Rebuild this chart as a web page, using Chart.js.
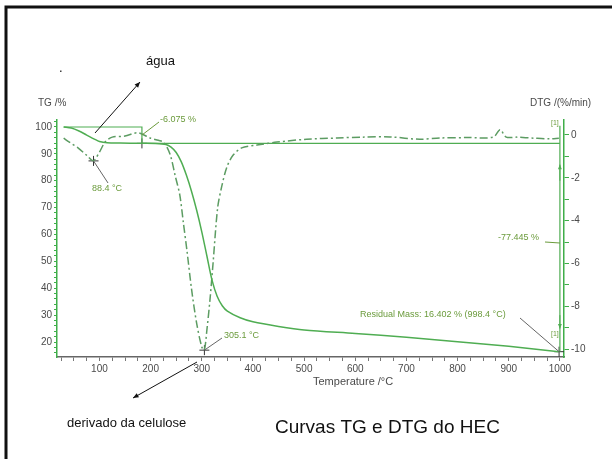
<!DOCTYPE html>
<html>
<head>
<meta charset="utf-8">
<script src="https://cdn.jsdelivr.net/npm/chart.js@4"></script>
<style>
  html, body { margin: 0; padding: 0; background: #fff; }
  #wrap { width: 612px; height: 459px; }
</style>
</head>
<body>
<div id="wrap"><canvas id="tga" width="612" height="459"></canvas></div>
<script>
// ============================================================
// DATA
// ============================================================

// TG curve: temperature (°C) -> mass (%)
const tgTemp = [30, 45, 60, 75, 90, 100, 115, 140, 180, 210, 230, 240, 250, 260, 270, 280, 290, 300, 310, 320, 330, 340, 350, 375, 400, 450, 500, 600, 700, 800, 900, 998];
const tgMass = [100, 99.6, 98.5, 97.0, 95.5, 94.6, 94.1, 94.0, 93.95, 93.9, 93.5, 92.5, 90.5, 87, 82, 76, 69, 61, 52, 43, 37, 33.5, 31.5, 29, 27.5, 25.8, 24.5, 23.2, 21.8, 20.1, 18.4, 16.4];

// DTG curve: temperature (°C) -> rate (%/min)
const dtgTemp = [30, 42, 58, 75, 88, 100, 111, 125, 150, 175, 200, 215, 226, 238, 248, 257, 264, 271, 280, 290, 300, 305, 310, 316, 322, 331, 339, 349, 361, 378, 408, 447, 505, 564, 615, 668, 726, 765, 820, 870, 883, 895, 916, 950, 980, 998];
const dtgRate = [-0.15, -0.35, -0.6, -0.95, -1.2, -0.8, -0.33, -0.1, -0.05, 0.1, -0.15, -0.25, -0.35, -0.9, -1.9, -2.8, -4.1, -5.4, -7.2, -8.8, -9.9, -10.05, -9.1, -7.7, -6.0, -3.4, -2.4, -1.5, -0.95, -0.6, -0.47, -0.33, -0.2, -0.14, -0.1, -0.09, -0.2, -0.14, -0.12, -0.1, 0.25, -0.1, -0.1, -0.15, -0.18, -0.15];

// step evaluation lines (TG axis)
const stepTemp = [30, 183, 183, 1000];
const stepMass = [100, 100, 93.9, 93.9];
const lossTemp = [1000, 1000];
const lossMass = [100.5, 16.4];

// marked points
const tgMarkTemp = [183, 998.4];
const tgMarkMass = [93.9, 16.4];
const dtgMarkTemp = [88.4, 305.1];
const dtgMarkRate = [-1.21, -10.05];

// axes
const xTickLabels = [100, 200, 300, 400, 500, 600, 700, 800, 900, 1000];
const xMinorTicks = [25, 50, 75, 100, 125, 150, 175, 200, 225, 250, 275, 300, 325, 350, 375, 400, 425, 450, 475, 500, 525, 550, 575, 600, 625, 650, 675, 700, 725, 750, 775, 800, 825, 850, 875, 900, 925, 950, 975, 1000];
const tgTickLabels = [20, 30, 40, 50, 60, 70, 80, 90, 100];
const tgMinorTicks = [16, 18, 20, 22, 24, 26, 28, 30, 32, 34, 36, 38, 40, 42, 44, 46, 48, 50, 52, 54, 56, 58, 60, 62, 64, 66, 68, 70, 72, 74, 76, 78, 80, 82, 84, 86, 88, 90, 92, 94, 96, 98, 100, 102];
const dtgTickLabels = [0, -2, -4, -6, -8, -10];
const dtgMinorTicks = [0, -1, -2, -3, -4, -5, -6, -7, -8, -9, -10];

const pts = (xs, ys) => xs.map((v, i) => ({ x: v, y: ys[i] }));

// ============================================================
// COLOURS
// ============================================================

const tgColor = "#4fad52";
const dtgColor = "#5c9c62";
const axisGreen = "#3fae49";
const noteColor = "#6b9b3c";
const labelGrey = "#4a4a4a";

// ============================================================
// DECORATION PLUGIN (frame, texts, arrows, leaders)
// ============================================================

function arrow(c, x1, y1, x2, y2, color, head) {
  c.strokeStyle = color;
  c.fillStyle = color;
  c.lineWidth = 1;
  c.beginPath();
  c.moveTo(x1, y1);
  c.lineTo(x2, y2);
  c.stroke();
  const a = Math.atan2(y2 - y1, x2 - x1);
  c.beginPath();
  c.moveTo(x2, y2);
  c.lineTo(x2 - head * Math.cos(a - 0.4), y2 - head * Math.sin(a - 0.4));
  c.lineTo(x2 - head * Math.cos(a + 0.4), y2 - head * Math.sin(a + 0.4));
  c.closePath();
  c.fill();
}

function line(c, x1, y1, x2, y2, color) {
  c.strokeStyle = color;
  c.lineWidth = 1;
  c.beginPath();
  c.moveTo(x1, y1);
  c.lineTo(x2, y2);
  c.stroke();
}

const decor = {
  id: "decor",
  beforeDraw(chart) {
    const c = chart.ctx;
    c.save();
    c.fillStyle = "#fff";
    c.fillRect(0, 0, chart.width, chart.height);
    c.restore();
  },
  afterDatasetsDraw(chart) {
    const c = chart.ctx;
    const { x, yTG, yDTG } = chart.scales;
    c.save();

    // slide frame
    c.strokeStyle = "#111";
    c.lineWidth = 3;
    c.beginPath();
    c.moveTo(6, 459);
    c.lineTo(6, 7);
    c.lineTo(612, 7);
    c.stroke();

    // axis titles
    c.fillStyle = labelGrey;
    c.font = "10px 'Liberation Sans', Arial, sans-serif";
    c.textBaseline = "middle";
    c.textAlign = "left";
    c.fillText("TG /%", 38, 103);
    c.fillText("DTG /(%/min)", 530, 103);
    c.font = "11px 'Liberation Sans', Arial, sans-serif";
    c.fillText("Temperature /\u00B0C", 313, 382);

    // annotations
    c.fillStyle = noteColor;
    c.font = "9px 'Liberation Sans', Arial, sans-serif";
    c.fillText("-6.075 %", 160, 120);
    c.fillText("88.4 \u00B0C", 92, 189);
    c.fillText("305.1 \u00B0C", 224, 336);
    c.fillText("Residual Mass: 16.402 % (998.4 \u00B0C)", 360, 315);
    c.fillText("-77.445 %", 498, 238);
    c.font = "7px 'Liberation Sans', Arial, sans-serif";
    c.fillText("[1]", 551, 123);
    c.fillText("[1]", 551, 334);

    // leader lines
    line(c, 159, 122, x.getPixelForValue(183), yTG.getPixelForValue(97), noteColor);
    line(c, x.getPixelForValue(88.4), yDTG.getPixelForValue(-1.21), 108, 183, "#666");
    line(c, x.getPixelForValue(305.1), yDTG.getPixelForValue(-10.05), 222, 338, "#666");
    line(c, 520, 318, x.getPixelForValue(998.4), yTG.getPixelForValue(16.4), "#666");
    line(c, 545, 242, x.getPixelForValue(1000), 243, noteColor);

    // arrowheads on the mass-loss step
    const sx = x.getPixelForValue(1000);
    arrow(c, sx, yTG.getPixelForValue(80), sx, yTG.getPixelForValue(86), tgColor, 5);
    arrow(c, sx, yTG.getPixelForValue(30), sx, yTG.getPixelForValue(25), tgColor, 5);

    // slide texts and black arrows
    c.fillStyle = "#111";
    c.font = "13px 'Liberation Sans', Arial, sans-serif";
    c.fillText("\u00E1gua", 146, 61);
    c.fillText(".", 59, 68);
    c.fillText("derivado da celulose", 67, 423);
    c.font = "19px 'Liberation Sans', Arial, sans-serif";
    c.fillText("Curvas TG e DTG do HEC", 275, 428);

    arrow(c, 95, 133, 140, 82, "#111", 6);
    arrow(c, 197, 362, 133, 398, "#111", 6);

    c.restore();
  }
};

// ============================================================
// CHART
// ============================================================

Chart.defaults.font.family = "'Liberation Sans', Arial, sans-serif";

new Chart(document.getElementById("tga"), {
  type: "line",
  data: {
    datasets: [
      {
        data: pts(tgTemp, tgMass),
        yAxisID: "yTG",
        borderColor: tgColor,
        borderWidth: 1.5,
        tension: 0.3,
        pointRadius: 0
      },
      {
        data: pts(dtgTemp, dtgRate),
        yAxisID: "yDTG",
        borderColor: dtgColor,
        borderWidth: 1.5,
        borderDash: [8, 3, 2, 3],
        tension: 0.3,
        pointRadius: 0
      },
      {
        data: pts(stepTemp, stepMass),
        yAxisID: "yTG",
        borderColor: tgColor,
        borderWidth: 1.2,
        pointRadius: 0
      },
      {
        data: pts(lossTemp, lossMass),
        yAxisID: "yTG",
        borderColor: tgColor,
        borderWidth: 1.2,
        pointRadius: 0
      },
      {
        data: pts(tgMarkTemp, tgMarkMass),
        yAxisID: "yTG",
        showLine: false,
        pointStyle: "cross",
        pointRadius: 5,
        borderColor: "#333",
        borderWidth: 1
      },
      {
        data: pts(dtgMarkTemp, dtgMarkRate),
        yAxisID: "yDTG",
        showLine: false,
        pointStyle: "cross",
        pointRadius: 5,
        borderColor: "#333",
        borderWidth: 1
      }
    ]
  },
  options: {
    responsive: false,
    animation: false,
    layout: { padding: { left: 17, right: 8, top: 120, bottom: 62 } },
    plugins: {
      legend: { display: false },
      tooltip: { enabled: false }
    },
    scales: {
      x: {
        type: "linear",
        min: 17,
        max: 1008,
        afterBuildTicks: s => { s.ticks = xMinorTicks.map(v => ({ value: v })); },
        afterFit: s => { s.height = 40; },
        ticks: {
          autoSkip: false,
          maxRotation: 0,
          padding: 2,
          color: labelGrey,
          font: { size: 10 },
          callback: v => xTickLabels.includes(v) ? String(v) : ""
        },
        grid: { drawOnChartArea: false, tickLength: 4, tickColor: "#777" },
        border: { color: "#666", width: 1.5 }
      },
      yTG: {
        position: "left",
        min: 14.42,
        max: 102.6,
        afterBuildTicks: s => { s.ticks = tgMinorTicks.map(v => ({ value: v })); },
        afterFit: s => { s.width = 40; },
        ticks: {
          autoSkip: false,
          padding: 2,
          color: labelGrey,
          font: { size: 10 },
          callback: v => tgTickLabels.includes(v) ? String(v) : ""
        },
        grid: { drawOnChartArea: false, tickLength: 3, tickColor: axisGreen },
        border: { color: axisGreen, width: 1.5 }
      },
      yDTG: {
        position: "right",
        min: -10.37,
        max: 0.7,
        afterBuildTicks: s => { s.ticks = dtgMinorTicks.map(v => ({ value: v })); },
        afterFit: s => { s.width = 40; },
        ticks: {
          autoSkip: false,
          padding: 2,
          color: labelGrey,
          font: { size: 10 },
          callback: v => dtgTickLabels.includes(v) ? String(v) : ""
        },
        grid: { drawOnChartArea: false, tickLength: 5, tickColor: axisGreen },
        border: { color: axisGreen, width: 1.5 }
      }
    }
  },
  plugins: [decor]
});
</script>
</body>
</html>
